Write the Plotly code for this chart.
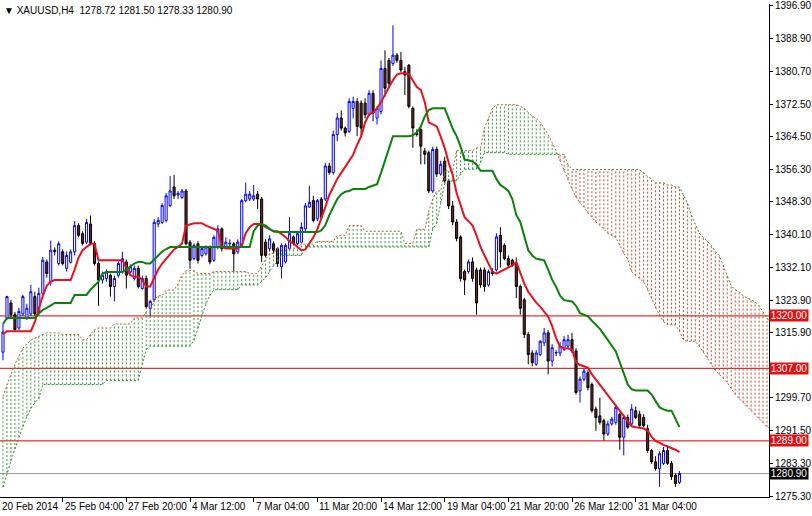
import plotly.graph_objects as go

# ---------------- data ----------------
opens = [
    1311.0, 1319.5, 1323.2, 1320.3, 1317.0, 1320.5, 1319.5, 1320.5, 1324.8, 1321.1,
    1325.6, 1333.4, 1328.5, 1336.3, 1333.0, 1335.9, 1331.8, 1333.3, 1335.9, 1342.4,
    1340.4, 1338.3, 1342.8, 1338.0, 1333.0, 1328.9, 1329.3, 1330.1, 1327.3, 1330.1,
    1330.9, 1333.4, 1330.9, 1329.3, 1331.8, 1326.8, 1329.3, 1321.9, 1324.0, 1342.8,
    1343.2, 1343.7, 1347.4, 1352.0, 1350.0, 1349.4, 1351.0, 1338.3, 1334.2, 1337.9,
    1335.0, 1335.4, 1337.1, 1333.8, 1337.1, 1341.6, 1337.1, 1337.9, 1337.9, 1335.9,
    1337.5, 1348.6, 1349.0, 1349.0, 1350.2, 1349.0, 1338.3, 1336.7, 1337.9, 1336.7,
    1332.2, 1333.4, 1336.7, 1339.6, 1337.9, 1338.3, 1341.6, 1347.0, 1348.6, 1344.1,
    1349.0, 1349.0, 1357.2, 1355.6, 1365.0, 1369.1, 1366.6, 1365.8, 1371.5, 1373.2,
    1372.8, 1372.8, 1369.9, 1375.2, 1369.1, 1370.7, 1381.4, 1383.4, 1382.6, 1384.7,
    1383.4, 1380.6, 1382.2, 1371.5, 1365.4, 1366.2, 1360.9, 1360.5, 1351.0, 1361.3,
    1355.2, 1358.4, 1353.5, 1347.3, 1343.3, 1339.6, 1331.0, 1331.0, 1333.4, 1331.4,
    1331.4, 1331.4, 1327.7, 1331.0, 1331.4, 1340.0, 1337.5, 1334.2, 1333.8, 1333.0,
    1327.3, 1324.0, 1315.4, 1310.8, 1308.0, 1310.4, 1313.3, 1315.8, 1308.8, 1310.8,
    1310.8, 1311.7, 1312.5, 1314.1, 1311.3, 1301.4, 1304.3, 1305.9, 1303.0, 1296.9,
    1295.2, 1294.0, 1290.7, 1293.2, 1293.6, 1295.6, 1289.9, 1294.8, 1293.2, 1296.5,
    1295.6, 1294.8, 1292.0, 1286.6, 1283.8, 1282.1, 1283.4, 1286.6, 1283.4, 1280.5,
    1278.72]
highs = [
    1318.0, 1325.0, 1324.0, 1321.0, 1322.0, 1325.2, 1323.0, 1327.7, 1326.0, 1327.0,
    1334.6, 1334.0, 1338.7, 1337.0, 1338.5, 1336.5, 1336.0, 1336.5, 1343.5, 1343.0,
    1341.0, 1344.1, 1344.9, 1338.5, 1333.5, 1331.0, 1331.5, 1330.5, 1330.0, 1333.5,
    1335.9, 1334.0, 1332.8, 1332.5, 1332.5, 1330.0, 1330.0, 1324.0, 1344.0, 1344.5,
    1348.0, 1350.5, 1354.7, 1355.0, 1351.0, 1351.5, 1351.5, 1338.8, 1338.0, 1338.5,
    1337.0, 1337.5, 1337.5, 1340.0, 1342.5, 1342.0, 1339.5, 1339.0, 1338.3, 1339.0,
    1349.0, 1353.1, 1351.0, 1352.5, 1351.0, 1349.5, 1339.0, 1340.0, 1338.5, 1337.0,
    1338.0, 1338.0, 1344.5, 1340.0, 1341.0, 1343.2, 1348.0, 1352.3, 1349.8, 1349.0,
    1349.5, 1358.0, 1358.0, 1366.0, 1370.3, 1371.0, 1367.0, 1374.0, 1374.4, 1374.0,
    1373.5, 1374.0, 1376.0, 1376.0, 1372.0, 1383.4, 1385.9, 1384.0, 1392.1, 1385.2,
    1385.5, 1381.8, 1382.5, 1372.0, 1366.3, 1366.8, 1361.7, 1361.0, 1362.0, 1362.0,
    1358.5, 1359.5, 1354.0, 1348.5, 1344.0, 1340.0, 1331.5, 1334.0, 1334.5, 1332.0,
    1332.0, 1332.0, 1331.5, 1331.8, 1340.5, 1342.0, 1338.0, 1335.0, 1334.2, 1334.5,
    1327.8, 1324.5, 1316.0, 1311.5, 1311.5, 1314.0, 1317.0, 1316.5, 1313.0, 1311.5,
    1313.5, 1315.0, 1315.3, 1315.8, 1312.0, 1305.0, 1307.0, 1306.5, 1303.5, 1297.5,
    1299.7, 1294.5, 1294.0, 1295.0, 1298.0, 1296.0, 1295.5, 1295.5, 1298.1, 1297.5,
    1296.5, 1295.6, 1293.0, 1287.0, 1285.2, 1286.4, 1287.5, 1287.5, 1284.0, 1281.0,
    1281.5]
lows = [
    1309.0, 1319.0, 1319.5, 1316.0, 1316.5, 1320.0, 1319.0, 1320.0, 1320.0, 1320.5,
    1325.0, 1329.5, 1327.5, 1335.0, 1332.5, 1332.5, 1331.0, 1333.0, 1335.0, 1339.5,
    1337.5, 1337.8, 1337.5, 1332.5, 1322.5, 1328.0, 1328.5, 1324.8, 1323.6, 1329.5,
    1330.5, 1326.8, 1330.5, 1328.8, 1326.8, 1326.5, 1321.8, 1319.9, 1323.5, 1342.0,
    1342.8, 1343.2, 1347.0, 1349.0, 1349.0, 1349.0, 1337.5, 1331.7, 1333.8, 1333.0,
    1334.5, 1335.0, 1332.8, 1333.4, 1336.5, 1336.0, 1336.7, 1337.0, 1331.0, 1335.4,
    1337.0, 1348.2, 1348.5, 1348.5, 1346.5, 1333.4, 1334.5, 1336.0, 1335.5, 1332.2,
    1329.3, 1333.0, 1336.3, 1337.5, 1337.5, 1338.0, 1341.0, 1346.8, 1343.2, 1343.5,
    1344.0, 1348.5, 1355.0, 1355.0, 1363.3, 1366.0, 1364.5, 1365.4, 1369.0, 1364.6,
    1364.2, 1369.0, 1369.5, 1368.3, 1367.5, 1370.0, 1374.4, 1376.5, 1382.0, 1382.8,
    1380.5, 1374.8, 1371.5, 1361.7, 1364.5, 1357.6, 1357.6, 1350.5, 1350.5, 1354.5,
    1354.8, 1353.0, 1346.5, 1342.5, 1338.5, 1328.5, 1325.2, 1330.5, 1328.5, 1320.3,
    1327.0, 1326.0, 1327.3, 1330.0, 1331.0, 1332.0, 1333.8, 1332.0, 1332.2, 1324.4,
    1320.3, 1314.5, 1308.0, 1307.5, 1307.6, 1310.0, 1312.5, 1305.5, 1307.5, 1310.0,
    1310.0, 1311.3, 1312.0, 1310.8, 1300.5, 1298.5, 1303.8, 1301.5, 1296.0, 1291.5,
    1293.0, 1289.1, 1290.2, 1292.8, 1293.0, 1286.8, 1285.4, 1292.0, 1292.8, 1294.4,
    1292.4, 1292.4, 1286.0, 1283.3, 1281.6, 1277.6, 1283.0, 1283.0, 1279.3, 1277.6,
    1278.33]
closes = [
    1316.0, 1324.8, 1320.3, 1316.6, 1321.1, 1324.8, 1321.9, 1326.0, 1320.5, 1325.6,
    1333.8, 1330.5, 1336.3, 1336.0, 1337.9, 1333.0, 1335.0, 1335.9, 1342.4, 1340.0,
    1338.0, 1343.2, 1338.0, 1333.0, 1328.9, 1330.1, 1330.9, 1327.3, 1329.3, 1333.0,
    1334.2, 1330.1, 1332.2, 1331.8, 1327.3, 1329.3, 1322.3, 1323.6, 1343.2, 1343.7,
    1347.4, 1349.8, 1351.0, 1349.8, 1350.4, 1351.0, 1337.9, 1333.8, 1337.5, 1333.8,
    1336.7, 1337.1, 1333.4, 1339.5, 1341.6, 1336.7, 1338.3, 1338.0, 1335.4, 1338.3,
    1348.6, 1350.2, 1350.2, 1349.8, 1349.0, 1335.0, 1335.0, 1339.1, 1336.3, 1333.0,
    1337.5, 1337.5, 1340.4, 1337.9, 1340.4, 1342.0, 1347.3, 1348.2, 1343.7, 1348.6,
    1344.5, 1357.2, 1355.6, 1365.0, 1369.1, 1366.6, 1365.4, 1373.2, 1373.2, 1367.0,
    1366.6, 1369.9, 1375.2, 1370.3, 1371.5, 1381.4, 1376.5, 1377.7, 1384.7, 1383.4,
    1381.0, 1379.8, 1372.0, 1366.6, 1365.0, 1362.1, 1360.1, 1351.0, 1361.3, 1355.2,
    1357.6, 1353.5, 1347.3, 1343.3, 1339.2, 1329.3, 1328.9, 1333.4, 1329.3, 1323.2,
    1327.7, 1327.3, 1331.0, 1330.5, 1339.6, 1335.9, 1334.2, 1332.6, 1332.6, 1327.3,
    1321.9, 1315.4, 1310.4, 1308.4, 1310.8, 1313.7, 1315.8, 1308.8, 1312.1, 1310.9,
    1312.5, 1314.1, 1314.1, 1311.3, 1301.0, 1304.3, 1306.3, 1302.2, 1296.5, 1294.8,
    1293.6, 1290.7, 1293.2, 1294.4, 1297.3, 1289.9, 1294.8, 1292.4, 1296.9, 1294.8,
    1292.8, 1292.8, 1286.6, 1283.8, 1282.1, 1285.8, 1286.6, 1283.4, 1280.1, 1278.4,
    1280.9]

tenkan = [
    1315.5, 1316.2, 1316.2, 1316.2, 1316.2, 1316.2, 1316.2, 1316.2, 1318.5, 1322.0,
    1325.0, 1327.5, 1328.5, 1328.9, 1328.9, 1328.9, 1328.9, 1328.9, 1331.5, 1334.5,
    1336.3, 1337.1, 1337.9, 1337.9, 1333.8, 1333.8, 1333.8, 1333.8, 1333.8, 1333.8,
    1333.8, 1332.0, 1330.1, 1329.7, 1329.7, 1328.9, 1327.3, 1327.3, 1329.5, 1331.5,
    1333.0, 1334.2, 1335.5, 1336.5, 1337.1, 1338.0, 1342.4, 1342.8, 1343.0, 1343.0,
    1343.0, 1342.4, 1342.0, 1341.6, 1341.2, 1337.1, 1336.7, 1336.7, 1336.7, 1336.7,
    1337.5, 1340.5, 1342.0, 1342.8, 1342.8, 1342.8, 1342.0, 1341.4, 1341.0, 1341.0,
    1340.4, 1339.6, 1338.5, 1338.0, 1337.1, 1336.3, 1336.5, 1338.0, 1339.5, 1341.5,
    1344.0, 1347.0, 1350.0, 1352.0, 1354.0, 1355.5, 1357.0, 1358.4, 1360.0, 1362.5,
    1364.5, 1368.0, 1370.0, 1370.5, 1371.5, 1373.0, 1375.0, 1376.8, 1378.5, 1379.9,
    1380.2, 1380.2, 1380.0, 1378.5, 1376.8, 1376.1, 1373.0, 1368.0, 1367.5, 1367.0,
    1364.5, 1361.7, 1358.0, 1355.0, 1350.5, 1347.5, 1344.5, 1343.5, 1342.4, 1340.0,
    1337.1, 1335.0, 1333.0, 1331.0, 1330.5, 1331.0, 1331.4, 1331.8, 1332.5, 1333.4,
    1330.5, 1328.0, 1326.0, 1324.5, 1323.3, 1322.3, 1321.0, 1319.8, 1317.5, 1314.5,
    1312.3, 1312.0, 1311.9, 1311.7, 1308.5, 1307.8, 1307.5, 1307.1, 1305.5, 1304.2,
    1302.8, 1301.6, 1300.4, 1299.0, 1297.6, 1296.2, 1295.0, 1293.8, 1292.6, 1292.4,
    1292.3, 1292.1, 1291.5, 1290.0, 1289.0, 1288.4, 1288.0, 1287.6, 1287.2, 1286.8,
    1286.2]
kijun = [
    1318.0, 1319.5, 1319.5, 1319.5, 1319.5, 1319.5, 1319.5, 1319.5, 1319.5, 1320.5,
    1321.5, 1322.0, 1322.5, 1323.2, 1323.2, 1323.2, 1323.2, 1323.2, 1325.2, 1325.2,
    1325.2, 1325.2, 1326.5, 1327.5, 1328.5, 1330.5, 1330.9, 1330.9, 1330.9, 1330.9,
    1330.9, 1331.5, 1332.2, 1333.0, 1333.4, 1333.4, 1333.0, 1333.0, 1334.0, 1335.0,
    1336.0, 1336.6, 1337.1, 1337.1, 1337.1, 1337.1, 1337.1, 1337.1, 1337.1, 1337.1,
    1337.1, 1337.1, 1337.1, 1337.1, 1337.1, 1337.1, 1337.1, 1337.1, 1337.1, 1337.1,
    1337.1, 1337.1, 1337.1, 1341.0, 1342.4, 1342.8, 1342.4, 1341.6, 1341.0, 1340.8,
    1340.8, 1340.8, 1340.8, 1340.8, 1340.8, 1340.8, 1340.8, 1340.8, 1340.8, 1340.8,
    1341.2, 1342.5, 1345.0, 1347.0, 1349.0, 1350.2, 1350.8, 1351.0, 1351.5, 1351.5,
    1351.5, 1351.5, 1352.0, 1352.4, 1352.7, 1355.5, 1358.4, 1361.5, 1364.6, 1364.6,
    1364.6, 1364.6, 1364.6, 1364.8, 1365.5, 1367.0, 1369.5, 1371.1, 1371.5, 1371.5,
    1371.5, 1371.5, 1369.0, 1366.5, 1364.6, 1362.0, 1358.8, 1358.6, 1358.4, 1357.5,
    1356.0, 1356.0, 1356.0, 1356.0, 1354.0, 1352.5, 1351.8, 1351.0, 1349.0, 1345.0,
    1343.3, 1339.5, 1336.3, 1335.0, 1334.2, 1334.0, 1333.8, 1331.5, 1329.0, 1327.2,
    1325.0, 1323.9, 1323.7, 1323.6, 1322.5, 1320.7, 1320.3, 1319.9, 1318.8, 1317.8,
    1316.8, 1315.4, 1314.0, 1312.6, 1311.2, 1308.5, 1305.5, 1303.0, 1301.8, 1301.5,
    1301.5, 1301.5, 1301.5, 1300.5, 1299.0, 1297.3, 1296.8, 1296.5, 1296.5, 1294.5,
    1292.4]
# Senkou spans (already shifted 26 bars ahead, so they run past the last candle)
span_a = [
    1300.0, 1303.0, 1305.5, 1308.0, 1310.0, 1312.0, 1313.0, 1314.0, 1314.5, 1315.0,
    1315.4, 1315.8, 1315.8, 1315.8, 1315.8, 1315.4, 1315.4, 1315.4, 1315.4, 1315.4,
    1314.1, 1314.1, 1315.5, 1316.6, 1317.0, 1317.0, 1317.0, 1317.0, 1318.0, 1318.0,
    1318.0, 1318.0, 1318.0, 1319.5, 1319.5, 1319.5, 1321.0, 1321.0, 1324.0, 1325.0,
    1325.0, 1326.4, 1326.4, 1326.4, 1328.0, 1330.0, 1331.2, 1331.2, 1331.2, 1330.5,
    1330.5, 1330.5, 1330.5, 1331.0, 1331.0, 1331.0, 1331.0, 1331.0, 1331.0, 1331.0,
    1331.0, 1331.0, 1330.5, 1330.5, 1330.5, 1332.5, 1334.0, 1335.5, 1335.5, 1336.8,
    1336.8, 1336.8, 1336.8, 1336.8, 1336.8, 1337.8, 1337.8, 1337.8, 1337.8, 1338.5,
    1338.5, 1338.5, 1338.5, 1338.5, 1340.0, 1340.0, 1340.0, 1342.4, 1342.4, 1342.4,
    1342.4, 1341.0, 1341.0, 1341.0, 1341.0, 1341.0, 1341.0, 1341.0, 1341.0, 1341.0,
    1341.0, 1338.0, 1338.0, 1338.0, 1341.5, 1341.5, 1341.5, 1346.0, 1349.0, 1351.0,
    1351.0, 1356.0, 1356.0, 1356.0, 1361.0, 1361.0, 1361.0, 1361.0, 1361.0, 1361.7,
    1361.7, 1366.6, 1369.0, 1371.5, 1372.4, 1372.4, 1372.4, 1372.4, 1372.4, 1372.4,
    1372.0, 1371.5, 1370.5, 1369.5, 1369.0, 1368.0, 1366.5, 1365.0, 1363.0, 1361.0,
    1358.5, 1356.0, 1354.0, 1351.5, 1349.5, 1348.0, 1347.0, 1345.5, 1344.5, 1343.3,
    1342.5, 1341.5, 1340.5, 1340.0, 1339.5, 1337.5, 1335.5, 1334.0, 1331.0, 1330.0,
    1329.3, 1328.5, 1326.5, 1324.4, 1321.9, 1320.0, 1318.6, 1317.8, 1317.8, 1317.8,
    1316.2, 1314.0, 1313.7, 1313.7, 1313.7, 1312.5, 1311.0, 1309.5, 1308.0, 1306.5,
    1305.5, 1304.5, 1303.5, 1302.0, 1300.5, 1299.5, 1298.5, 1297.5, 1296.5, 1295.5,
    1294.5, 1293.5, 1292.5, 1292.0, 1291.5, 1291.0, 1290.5]
span_b = [
    1277.5, 1281.0, 1284.0, 1287.0, 1290.0, 1292.5, 1295.0, 1297.0, 1298.5, 1299.5,
    1303.0, 1303.0, 1303.0, 1303.0, 1303.0, 1303.0, 1303.0, 1303.0, 1303.0, 1303.0,
    1303.0, 1303.0, 1303.0, 1303.0, 1303.0, 1303.0, 1304.0, 1304.0, 1304.0, 1304.0,
    1304.0, 1304.0, 1304.0, 1304.0, 1304.0, 1308.0, 1311.6, 1312.5, 1312.5, 1312.5,
    1312.5, 1312.5, 1312.5, 1312.5, 1312.5, 1312.5, 1312.5, 1312.5, 1314.0, 1317.0,
    1320.0, 1323.0, 1325.0, 1326.5, 1326.5, 1326.5, 1326.5, 1326.5, 1326.5, 1326.5,
    1327.7, 1327.7, 1327.7, 1327.7, 1327.7, 1328.5, 1329.5, 1331.0, 1332.5, 1333.5,
    1335.0, 1335.0, 1335.0, 1335.0, 1335.0, 1335.0, 1337.1, 1337.1, 1337.1, 1337.1,
    1337.1, 1337.1, 1337.1, 1337.1, 1337.1, 1337.1, 1337.1, 1337.1, 1337.1, 1337.1,
    1337.1, 1337.1, 1337.1, 1337.1, 1337.1, 1337.1, 1337.1, 1337.1, 1337.1, 1337.1,
    1337.1, 1337.1, 1337.1, 1337.1, 1337.1, 1337.1, 1337.1, 1337.1, 1341.6, 1343.0,
    1348.0, 1352.7, 1353.5, 1353.5, 1353.5, 1355.2, 1356.4, 1356.4, 1356.4, 1356.4,
    1358.0, 1360.5, 1360.5, 1360.5, 1360.5, 1360.5, 1360.5, 1360.1, 1360.1, 1360.1,
    1360.1, 1360.1, 1360.1, 1360.1, 1360.1, 1360.1, 1360.1, 1360.1, 1360.1, 1360.1,
    1360.1, 1360.1, 1357.5, 1356.3, 1356.3, 1356.3, 1356.3, 1356.3, 1356.3, 1356.3,
    1356.3, 1356.3, 1356.3, 1356.3, 1356.3, 1356.3, 1356.3, 1356.3, 1356.3, 1356.3,
    1356.3, 1355.5, 1354.5, 1354.0, 1353.0, 1353.0, 1353.0, 1352.5, 1352.5, 1352.0,
    1352.0, 1350.0, 1348.0, 1345.0, 1342.5, 1340.5, 1339.5, 1338.5, 1337.5, 1336.0,
    1335.0, 1332.5, 1330.0, 1327.5, 1326.5, 1326.0, 1325.0, 1324.5, 1324.0, 1323.5,
    1322.5, 1321.0, 1319.5, 1318.0, 1317.0, 1316.0, 1315.0]

x_label_bars = [-0.75, 15, 31, 47, 63, 79, 95, 111, 127, 143, 159]
x_labels = ["20 Feb 2014", "25 Feb 04:00", "27 Feb 20:00", "4 Mar 12:00", "7 Mar 04:00",
            "11 Mar 20:00", "14 Mar 12:00", "19 Mar 04:00", "21 Mar 20:00",
            "26 Mar 12:00", "31 Mar 04:00"]
y_ticks = [1396.9, 1388.9, 1380.7, 1372.5, 1364.5, 1356.3, 1348.3, 1340.1, 1332.1,
           1323.9, 1315.9, 1299.7, 1291.5, 1283.3, 1275.3]
levels = [1320.0, 1307.0, 1289.0]
last_price = 1280.90
header = "XAUUSD,H4\u00a0\u00a01278.72 1281.50 1278.33 1280.90"

# ---------------- figure ----------------
FONT = "Liberation Sans, Arial, sans-serif"
bars = list(range(len(opens)))
cloud_bars = list(range(len(span_a)))

gx, gy, rx, ry = [], [], [], []
for i, a, b in zip(cloud_bars, span_a, span_b):
    if a >= b:
        gx += [i, i, None]
        gy += [b, a, None]
    else:
        rx += [i, i, None]
        ry += [a, b, None]

fig = go.Figure()
fig.add_trace(go.Scatter(x=gx, y=gy, mode="lines", hoverinfo="skip",
                         line=dict(color="#3c9a3c", width=1, dash="2px,2px")))
fig.add_trace(go.Scatter(x=rx, y=ry, mode="lines", hoverinfo="skip",
                         line=dict(color="#d24a2a", width=1, dash="2px,2px")))
fig.add_trace(go.Scatter(x=cloud_bars, y=span_a, mode="lines",
                         line=dict(color="#b0603a", width=1, dash="2px,2px")))
fig.add_trace(go.Scatter(x=cloud_bars, y=span_b, mode="lines",
                         line=dict(color="#2e8b2e", width=1, dash="2px,2px")))

fig.add_trace(go.Candlestick(
    x=bars, open=opens, high=highs, low=lows, close=closes,
    increasing=dict(line=dict(color="#0000ff", width=1), fillcolor="#ffffff"),
    decreasing=dict(line=dict(color="#000000", width=1), fillcolor="#6b2626"),
    whiskerwidth=0))

fig.add_trace(go.Scatter(x=bars, y=tenkan, mode="lines",
                         line=dict(color="#e8121e", width=2)))
fig.add_trace(go.Scatter(x=bars, y=kijun, mode="lines",
                         line=dict(color="#0b800b", width=2)))

shapes = []
for lv in levels:
    shapes.append(dict(type="line", xref="paper", x0=0, x1=1, yref="y", y0=lv, y1=lv,
                       line=dict(color="#d40000", width=1), layer="below"))
shapes.append(dict(type="line", xref="paper", x0=0, x1=1, yref="y", y0=last_price,
                   y1=last_price, line=dict(color="#a0a0a0", width=1), layer="below"))

annotations = []
for b, t in zip(x_label_bars, x_labels):
    annotations.append(dict(x=b, xref="x", y=0, yref="paper", text=t, showarrow=False,
                            xanchor="left", yanchor="top", xshift=0, yshift=-2,
                            font=dict(family=FONT, size=10, color="#000000")))
for lv in levels:
    annotations.append(dict(x=1, xref="paper", y=lv, yref="y", text=f"{lv:.2f}",
                            showarrow=False, xanchor="left", yanchor="middle",
                            bgcolor="#e31010", width=38, height=11, borderpad=0,
                            font=dict(family=FONT, size=10, color="#ffffff")))
annotations.append(dict(x=1, xref="paper", y=last_price, yref="y", text=f"{last_price:.2f}",
                        showarrow=False, xanchor="left", yanchor="middle",
                        bgcolor="#000000", width=38, height=11, borderpad=0,
                        font=dict(family=FONT, size=10, color="#ffffff")))
annotations.append(dict(x=0, xref="paper", y=1, yref="paper", text="\u25bc " + header,
                        showarrow=False, xanchor="left", yanchor="top", xshift=2, yshift=1,
                        font=dict(family=FONT, size=10, color="#000000")))

fig.update_layout(
    width=812, height=516,
    margin=dict(l=0, r=39, t=0, b=19, pad=0),
    paper_bgcolor="#ffffff", plot_bgcolor="#ffffff",
    showlegend=False, boxgap=0.25,
    shapes=shapes, annotations=annotations,
    xaxis=dict(range=[-0.75, 192.5], rangeslider=dict(visible=False),
               showgrid=False, zeroline=False, showline=True, linecolor="#000000",
               linewidth=1, ticks="outside", ticklen=4, tickcolor="#000000",
               tickvals=x_label_bars[1:], showticklabels=False),
    yaxis=dict(range=[1275.07, 1397.39], side="right", showgrid=False, zeroline=False,
               showline=True, linecolor="#000000", linewidth=1, ticks="outside",
               ticklen=3, tickcolor="#000000", tickvals=y_ticks,
               ticktext=[f"{v:.2f}" for v in y_ticks], ticklabeloverflow="allow",
               tickfont=dict(family=FONT, size=10, color="#000000")),
)

fig.write_html("out.html", config={"displayModeBar": False},
               post_script="document.body.style.margin='0px';")
